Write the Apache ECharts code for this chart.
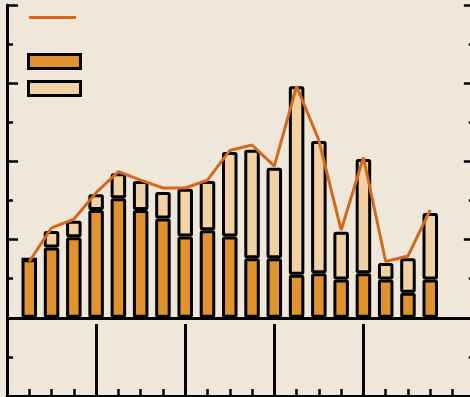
<!DOCTYPE html>
<html>
<head>
<meta charset="utf-8">
<style>
  html, body { margin: 0; padding: 0; background: #EFE7DA; }
  #chart { width: 470px; height: 397px; }
</style>
<script src="https://cdn.jsdelivr.net/npm/echarts@6/dist/echarts.min.js"></script>
</head>
<body>
<div id="chart"></div>
<script>
// Quarter slots along the x axis; the empty slots at each end pad the frame
const periods = ['', 'Q1', 'Q2', 'Q3', 'Q4', 'Q5', 'Q6', 'Q7', 'Q8', 'Q9', 'Q10', 'Q11', 'Q12', 'Q13', 'Q14', 'Q15', 'Q16', 'Q17', 'Q18', 'Q19', 'Q20', ''];
// Lower (dark) bar segment
const baseValues = [null, 0.75, 0.90, 1.03, 1.38, 1.53, 1.38, 1.27, 1.04, 1.12, 1.04, 0.76, 0.76, 0.55, 0.57, 0.49, 0.57, 0.49, 0.32, 0.49, null, null];
// Upper (light) bar segment
const extraValues = [null, 0.00, 0.21, 0.21, 0.20, 0.32, 0.37, 0.34, 0.61, 0.63, 1.08, 1.39, 1.16, 2.41, 1.69, 0.61, 1.46, 0.21, 0.44, 0.85, null, null];
// Line series
const totalValues = [null, 0.72, 1.15, 1.26, 1.60, 1.87, 1.76, 1.66, 1.66, 1.76, 2.14, 2.21, 1.94, 2.96, 2.27, 1.12, 2.05, 0.72, 0.79, 1.38, null, null];
// Year boundaries drawn as dividers below the zero line
const yearDividers = ['Q4', 'Q8', 'Q12', 'Q16'];

const INK = '#000000';
const DARK = '#E0922F';
const LIGHT = '#F2D2A5';
const LINE = '#D2691E';

const yAxisBase = {
  type: 'value', min: -1, max: 4, interval: 1,
  axisLine: { show: true, onZero: false, lineStyle: { color: INK, width: 3 } },
  axisTick: { show: true, inside: true, length: 11, lineStyle: { color: INK, width: 2.5 } },
  minorTick: { show: true, splitNumber: 2, length: 6, lineStyle: { color: INK, width: 2.5 } },
  axisLabel: { show: false },
  splitLine: { show: false }
};

const chart = echarts.init(document.getElementById('chart'), null, { renderer: 'canvas' });
chart.setOption({
  backgroundColor: '#EFE7DA',
  animation: false,
  // the frame runs a few pixels past the right edge of the canvas
  grid: { left: 7, width: 467.8, top: 5, height: 391, containLabel: false, outerBoundsMode: 'none' },
  legend: [
    {
      data: [{ name: 'Total', icon: 'rect' }], orient: 'vertical', left: 29, top: 16, padding: 0,
      itemWidth: 47, itemHeight: 3, selectedMode: false,
      formatter: () => '', textStyle: { fontSize: 1 },
      itemStyle: { color: LINE, borderWidth: 0 }
    },
    {
      data: ['Base', 'Extra'], orient: 'vertical', left: 27, top: 53, padding: 0,
      itemWidth: 52, itemHeight: 14, itemGap: 10, icon: 'rect', selectedMode: false,
      formatter: () => '', textStyle: { fontSize: 1 },
      itemStyle: { borderColor: INK, borderWidth: 3 }
    }
  ],
  xAxis: {
    type: 'category', data: periods, boundaryGap: false,
    axisLine: { show: true, onZero: false, lineStyle: { color: INK, width: 3 } },
    axisTick: { show: true, inside: true, length: 7, interval: 0, lineStyle: { color: INK, width: 2.5 } },
    axisLabel: { show: false },
    splitLine: { show: false }
  },
  yAxis: [
    Object.assign({ position: 'left' }, yAxisBase),
    Object.assign({ position: 'right' }, yAxisBase)
  ],
  series: [
    {
      name: 'Base', type: 'bar', stack: 'bars', barWidth: 15.5,
      data: baseValues,
      itemStyle: { color: DARK, borderColor: INK, borderWidth: 3, borderRadius: 1 },
      markLine: {
        silent: true, symbol: ['none', 'none'], label: { show: false },
        lineStyle: { color: INK, width: 3, type: 'solid' },
        data: [[{ coord: [0, 0] }, { coord: [periods.length - 1, 0] }]].concat(
          yearDividers.map(q => [{ coord: [q, -0.08] }, { coord: [q, -1] }])
        )
      }
    },
    {
      name: 'Extra', type: 'bar', stack: 'bars', barWidth: 15.5,
      data: extraValues,
      itemStyle: { color: LIGHT, borderColor: INK, borderWidth: 3, borderRadius: 1 }
    },
    {
      name: 'Total', type: 'line', z: 5, symbol: 'none',
      data: totalValues,
      lineStyle: { color: LINE, width: 3 },
      itemStyle: { color: LINE }
    }
  ]
});
</script>
</body>
</html>
